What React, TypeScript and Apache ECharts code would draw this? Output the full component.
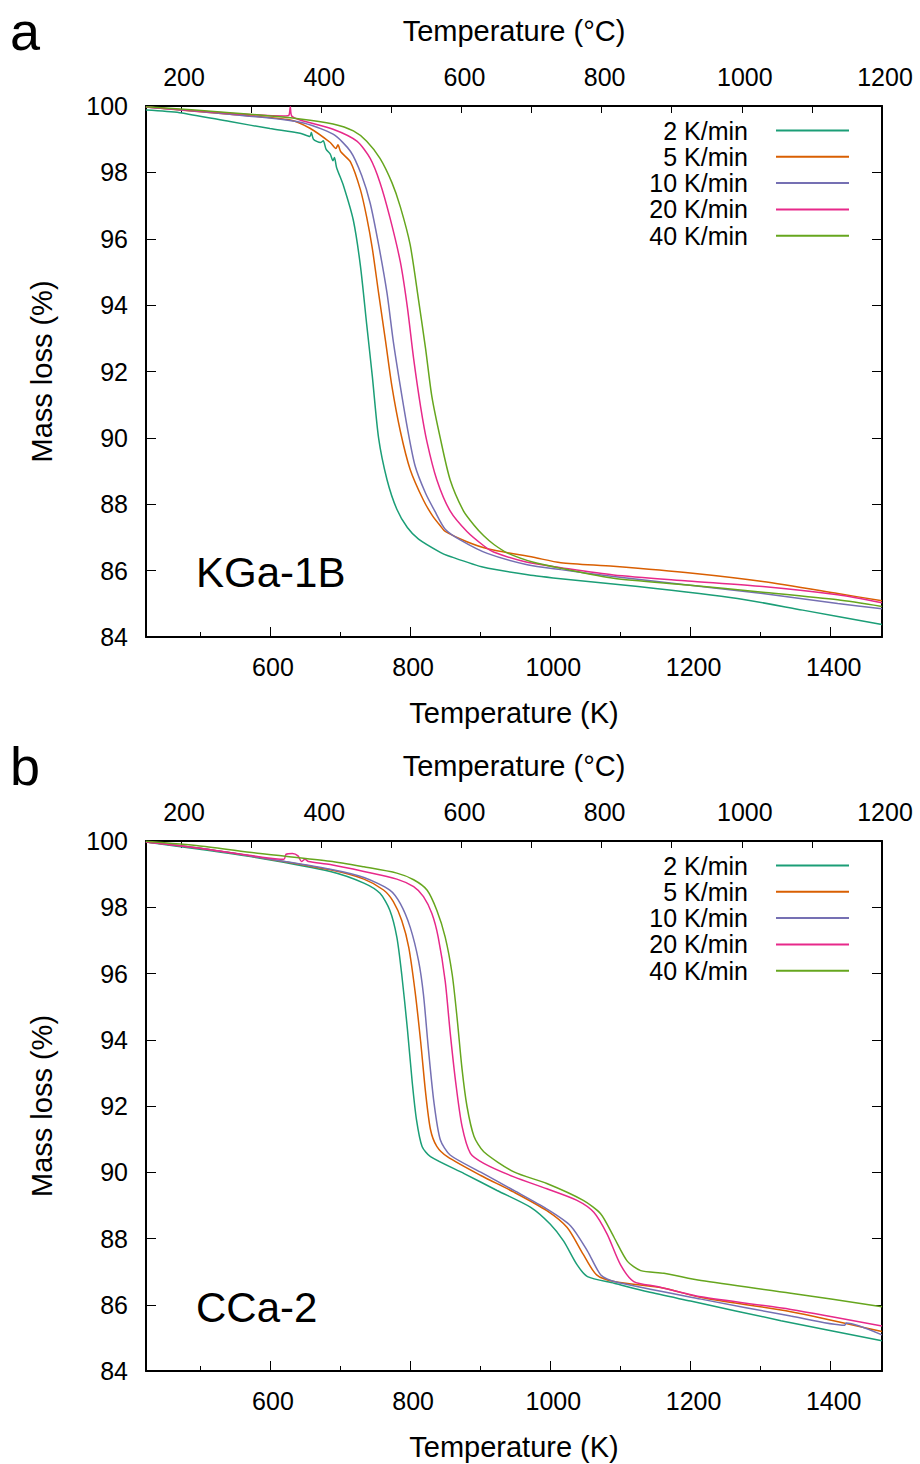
import React, { useEffect, useRef } from "react";
import * as echarts from "echarts";

// ---- data -----------------------------------------------------------
const RATES = ["2 K/min", "5 K/min", "10 K/min", "20 K/min", "40 K/min"];
const COLORS = ["#1b9e77", "#d95f02", "#7570b3", "#e7298a", "#66a61e"];

const KELVIN_LABELS = [600, 800, 1000, 1200, 1400];
const KELVIN_MINOR = [500, 700, 900, 1100, 1300];
const CELSIUS_LABELS = [200, 400, 600, 800, 1000, 1200];
const CELSIUS_TICKS = [200, 300, 400, 500, 600, 700, 800, 900, 1000, 1100, 1200];

const K_MIN = 423.15;
const K_MAX = 1473.15;
const C_MIN = 150;
const C_MAX = 1200;

// KGa-1B  [temperature K, mass %]
const kga2 = [[423,99.88],[471,99.80],[543,99.53],[600,99.32],[643,99.18],[657,99.08],[659,99.2],[662,99.0],[672,98.9],[676,98.95],[680,98.7],[686,98.55],[690,98.35],[692,98.45],[695,98.15],[705,97.59],[719,96.55],[729,95.19],[738,93.42],[746,91.86],[755,89.99],[767,88.74],[781,87.85],[796,87.3],[812,86.95],[843,86.55],[854,86.45],[905,86.10],[976,85.85],[1004,85.78],[1125,85.52],[1267,85.16],[1360,84.81],[1473,84.38]];
const kga5 = [[423,99.97],[543,99.75],[629,99.58],[657,99.33],[686,98.9],[694,98.72],[697,98.83],[701,98.62],[715,98.31],[729,97.48],[738,96.65],[746,95.71],[755,94.36],[765,92.90],[774,91.55],[786,90.20],[800,89.05],[819,88.12],[832,87.65],[843,87.35],[850,87.18],[881,86.87],[912,86.65],[976,86.40],[1015,86.24],[1090,86.13],[1203,85.92],[1303,85.67],[1410,85.31],[1473,85.09]];
const kga10 = [[423,99.97],[543,99.75],[643,99.51],[690,99.15],[715,98.63],[731,97.90],[743,97.07],[755,95.82],[767,94.36],[776,92.90],[786,91.55],[796,90.30],[807,89.16],[822,88.33],[835,87.8],[850,87.25],[872,86.92],[910,86.52],[967,86.18],[1015,86.03],[1090,85.82],[1196,85.57],[1303,85.31],[1410,85.01],[1473,84.85]];
const kga20 = [[423,99.97],[543,99.78],[620,99.70],[627,99.72],[629,99.98],[631,99.70],[643,99.58],[690,99.30],[724,98.94],[743,98.42],[757,97.69],[771,96.65],[786,95.30],[796,93.94],[805,92.38],[815,90.93],[824,89.88],[838,88.74],[857,87.80],[881,87.18],[905,86.75],[919,86.56],[967,86.25],[1015,86.09],[1090,85.87],[1196,85.69],[1303,85.52],[1410,85.27],[1473,85.03]];
const kga40 = [[423,99.98],[543,99.80],[643,99.61],[690,99.46],[719,99.25],[738,98.94],[757,98.42],[774,97.69],[786,96.96],[800,95.82],[812,94.15],[822,92.69],[831,91.24],[843,89.99],[857,88.74],[876,87.80],[890,87.40],[905,87.05],[920,86.78],[940,86.52],[976,86.25],[1015,86.07],[1090,85.77],[1196,85.57],[1303,85.35],[1410,85.12],[1473,84.92]];

// CCa-2  [temperature K, mass %]
const cca2 = [[423,99.97],[500,99.75],[586,99.48],[686,99.08],[734,98.73],[757,98.42],[771,97.91],[781,97.10],[788,95.97],[796,94.34],[803,92.71],[809,91.59],[817,90.78],[829,90.47],[877,89.96],[924,89.45],[972,88.94],[1000,88.43],[1019,87.92],[1038,87.21],[1053,86.85],[1091,86.65],[1139,86.39],[1200,86.11],[1329,85.52],[1473,84.91]];
const cca5 = [[423,99.97],[500,99.78],[586,99.50],[686,99.13],[734,98.85],[762,98.52],[776,98.17],[788,97.60],[798,96.79],[807,95.46],[815,93.94],[822,92.41],[829,91.29],[838,90.78],[853,90.47],[900,89.91],[948,89.40],[995,88.84],[1024,88.33],[1047,87.52],[1066,86.90],[1091,86.70],[1162,86.50],[1215,86.22],[1343,85.79],[1473,85.19]];
const cca10 = [[423,99.97],[500,99.78],[586,99.50],[686,99.15],[734,98.90],[771,98.52],[786,98.11],[800,97.40],[812,96.38],[819,95.36],[826,93.73],[834,92.10],[843,90.98],[857,90.52],[900,90.01],[948,89.45],[995,88.89],[1029,88.38],[1053,87.62],[1072,86.90],[1091,86.70],[1215,86.17],[1343,85.66],[1420,85.38],[1422,85.45],[1473,85.09]];
const cca20 = [[423,99.97],[500,99.78],[586,99.52],[620,99.45],[623,99.60],[632,99.62],[640,99.55],[645,99.38],[650,99.45],[655,99.38],[686,99.29],[734,99.08],[781,98.85],[805,98.62],[819,98.32],[831,97.81],[840,97.10],[850,95.77],[857,94.24],[865,92.71],[874,91.39],[886,90.57],[905,90.27],[948,89.86],[995,89.50],[1038,89.15],[1062,88.79],[1081,88.13],[1100,87.21],[1119,86.70],[1152,86.55],[1215,86.24],[1343,85.86],[1473,85.36]];
const cca40 = [[423,99.99],[500,99.85],[586,99.62],[686,99.39],[734,99.22],[781,99.03],[805,98.83],[824,98.52],[838,97.91],[850,97.10],[860,95.97],[867,94.65],[874,93.12],[881,92.00],[891,91.09],[905,90.62],[948,90.01],[995,89.66],[1047,89.15],[1072,88.74],[1091,88.03],[1110,87.31],[1129,87.03],[1162,86.95],[1215,86.73],[1343,86.35],[1473,85.94]];

const PANELS = [
  { letter: "a", sample: "KGa-1B", series: [kga2, kga5, kga10, kga20, kga40] },
  { letter: "b", sample: "CCa-2", series: [cca2, cca5, cca10, cca20, cca40] },
];

// ---- layout -----------------------------------------------------------
const FONT = "'Liberation Sans', Arial, sans-serif";
const GRIDS = [
  { left: 146, top: 106, width: 736, height: 531 },
  { left: 146, top: 841, width: 736, height: 530 },
];
const TICK_FS = 25;
const NAME_FS = 29;
const LETTER_FS = 54;
const plain = (v: number) => String(v);

function buildOption() {
  const grid: any[] = [];
  const xAxis: any[] = [];
  const yAxis: any[] = [];
  const series: any[] = [];
  const graphic: any[] = [];
  const black = { color: "#000", width: 2 };
  const tickStyle = { color: "#000", width: 1 };

  PANELS.forEach((p, gi) => {
    const g = GRIDS[gi];
    grid.push({ ...g, containLabel: false });
    const xBase = xAxis.length;
    const yBase = yAxis.length;
    // bottom kelvin axis (labels + major ticks)
    xAxis.push({
      gridIndex: gi, type: "value", position: "bottom", min: K_MIN, max: K_MAX,
      axisLine: { show: true, onZero: false, lineStyle: black },
      axisTick: { show: true, inside: true, length: 10, customValues: KELVIN_LABELS, lineStyle: tickStyle },
      axisLabel: { show: true, customValues: KELVIN_LABELS, formatter: plain, fontSize: TICK_FS, color: "#000", fontFamily: FONT, margin: 17, padding: [0, 0, 0, 6] },
      splitLine: { show: false },
      name: "Temperature (K)", nameLocation: "middle", nameGap: 61,
      nameTextStyle: { fontSize: NAME_FS, color: "#000", fontFamily: FONT },
    });
    // bottom minor ticks
    xAxis.push({
      gridIndex: gi, type: "value", position: "bottom", min: K_MIN, max: K_MAX,
      axisLine: { show: false, onZero: false },
      axisTick: { show: true, inside: true, length: 5, customValues: KELVIN_MINOR, lineStyle: tickStyle },
      axisLabel: { show: false },
      splitLine: { show: false },
    });
    // top celsius axis
    xAxis.push({
      gridIndex: gi, type: "value", position: "top", min: C_MIN, max: C_MAX,
      axisLine: { show: true, onZero: false, lineStyle: black },
      axisTick: { show: true, inside: true, length: 7, customValues: CELSIUS_TICKS, lineStyle: tickStyle },
      axisLabel: { show: true, customValues: CELSIUS_LABELS, formatter: plain, fontSize: TICK_FS, color: "#000", fontFamily: FONT, margin: 17, padding: [0, 0, 0, 6] },
      splitLine: { show: false },
      name: "Temperature (°C)", nameLocation: "middle", nameGap: 61,
      nameTextStyle: { fontSize: NAME_FS, color: "#000", fontFamily: FONT },
    });
    yAxis.push({
      gridIndex: gi, type: "value", position: "left", min: 84, max: 100, interval: 2,
      axisLine: { show: true, onZero: false, lineStyle: black },
      axisTick: { show: true, inside: true, length: 10, lineStyle: tickStyle },
      axisLabel: { show: true, formatter: plain, fontSize: TICK_FS, color: "#000", fontFamily: FONT, margin: 18 },
      splitLine: { show: false },
      name: "Mass loss (%)", nameLocation: "middle", nameGap: 90, nameRotate: 90,
      nameTextStyle: { fontSize: NAME_FS, color: "#000", fontFamily: FONT },
    });
    yAxis.push({
      gridIndex: gi, type: "value", position: "right", min: 84, max: 100, interval: 2,
      axisLine: { show: true, onZero: false, lineStyle: black },
      axisTick: { show: true, inside: true, length: 10, lineStyle: tickStyle },
      axisLabel: { show: false },
      splitLine: { show: false },
    });

    p.series.forEach((data, si) => {
      series.push({
        name: RATES[si], type: "line", xAxisIndex: xBase, yAxisIndex: yBase,
        data, showSymbol: false, symbol: "none", smooth: 0.25,
        lineStyle: { color: COLORS[si], width: 1.5 }, itemStyle: { color: COLORS[si] },
        z: 2 + si,
      });
    });

    // legend (drawn)
    RATES.forEach((r, si) => {
      const y = g.top + 24.5 + si * 26.3;
      graphic.push({
        type: "text", x: 748, y,
        style: { text: r, font: `${TICK_FS}px ${FONT}`, fill: "#000", textAlign: "right", textVerticalAlign: "middle" },
      });
      graphic.push({
        type: "line", shape: { x1: 776, y1: y, x2: 849, y2: y },
        style: { stroke: COLORS[si], lineWidth: 2 },
      });
    });
    // panel letter
    graphic.push({
      type: "text", x: 10, y: g.top - 75,
      style: { text: p.letter, font: `${LETTER_FS}px ${FONT}`, fill: "#000", textAlign: "left", textVerticalAlign: "middle" },
    });
    // sample label
    graphic.push({
      type: "text", x: 196, y: g.top + 466,
      style: { text: p.sample, font: `42px ${FONT}`, fill: "#000", textAlign: "left", textVerticalAlign: "middle" },
    });
  });

  return {
    animation: false,
    backgroundColor: "#fff",
    textStyle: { fontFamily: FONT },
    grid, xAxis, yAxis, series, graphic,
  };
}

export default function App() {
  const ref = useRef<HTMLDivElement>(null);
  useEffect(() => {
    if (!ref.current) return;
    const chart = echarts.init(ref.current, undefined, { renderer: "svg" });
    chart.setOption(buildOption());
    return () => chart.dispose();
  }, []);
  return (
    <div
      ref={ref}
      style={{ position: "absolute", left: 0, top: 0, width: 920, height: 1464, background: "#fff" }}
    />
  );
}
